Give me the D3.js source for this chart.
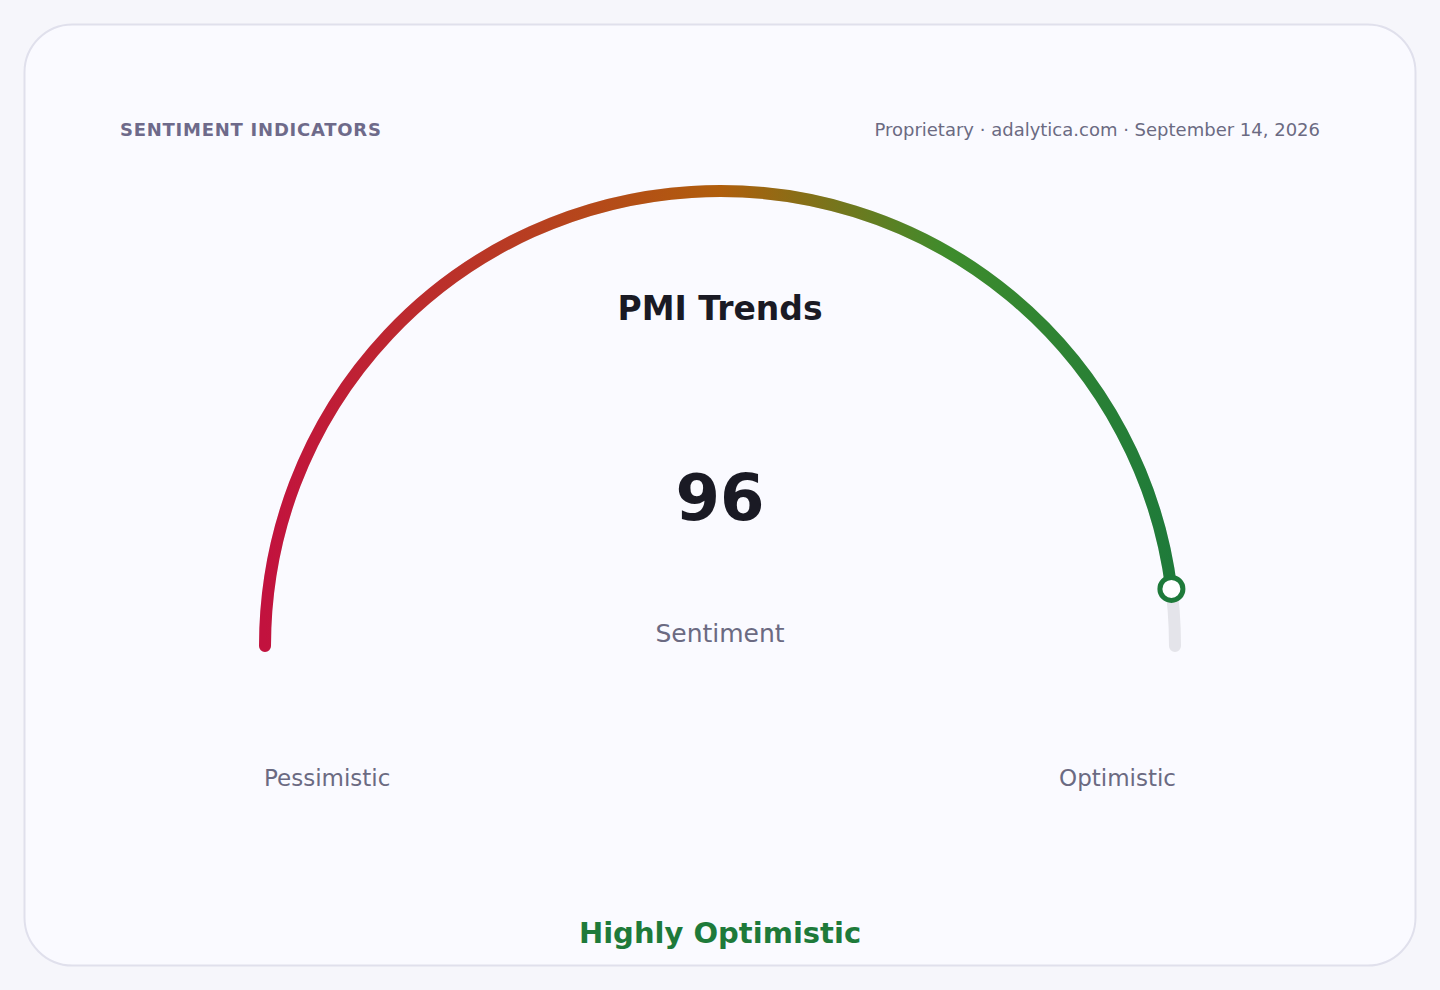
<!DOCTYPE html>
<html>
<head>
<meta charset="utf-8">
<script src="https://cdn.jsdelivr.net/npm/d3@7/dist/d3.min.js"></script>
<style>
  html, body { margin: 0; padding: 0; background: #f6f6fb; }
  svg { display: block; }
  text { font-family: "DejaVu Sans", sans-serif; }
</style>
</head>
<body>
<svg id="chart" width="1440" height="990"></svg>
<script>
// ---- data ----
const title = "PMI Trends";
const kicker = "SENTIMENT INDICATORS";
const sourceLine = "Proprietary · adalytica.com · September 14, 2026";
const gaugeDomain = [0, 100];
const gaugeValue = [96];
const valueLabel = ["Sentiment"];
const endLabels = ["Pessimistic", "Optimistic"];
const verdict = ["Highly Optimistic"];
const gradientStops = [0, 0.5, 0.75, 1];
const gradientColors = ["#c2123e", "#b05e0c", "#3e8c2c", "#1e7a3a"];

// ---- layout ----
const cx = 720, cy = 646, R = 455, SW = 12;
const svg = d3.select("#chart");

svg.append("rect").attr("x", 24.5).attr("y", 24.5).attr("width", 1391).attr("height", 941)
  .attr("rx", 48).attr("fill", "#fafaff").attr("stroke", "#e0e0ec").attr("stroke-width", 2);

svg.append("text").attr("x", 120).attr("y", 136)
  .attr("font-size", 18).attr("font-weight", "bold").attr("letter-spacing", 0.75)
  .attr("fill", "#6e6a8a").text(kicker);

svg.append("text").attr("x", 1320).attr("y", 136).attr("text-anchor", "end")
  .attr("font-size", 18).attr("fill", "#6b6a82").text(sourceLine);

// angle scale: 0 -> left (PI), 100 -> right (0), in standard math angle
const angle = d3.scaleLinear().domain(gaugeDomain).range([Math.PI, 0]);

const g = svg.append("g").attr("transform", `translate(${cx},${cy})`);

// gradient in the group's local coordinates
const defs = svg.append("defs");
const grad = defs.append("linearGradient").attr("id", "gg")
  .attr("gradientUnits", "userSpaceOnUse")
  .attr("x1", -R).attr("y1", 0).attr("x2", R).attr("y2", 0);
grad.selectAll("stop").data(gradientStops).join("stop")
  .attr("offset", d => d).attr("stop-color", (d, i) => gradientColors[i]);

function arcPath(v0, v1) {
  const p = d3.path();
  const a0 = angle(v0), a1 = angle(v1);
  p.moveTo(R * Math.cos(a0), -R * Math.sin(a0));
  // svg y is down, so math angle a maps to canvas angle -a
  p.arc(0, 0, R, -a0, -a1, false);
  return p.toString();
}

// track
g.append("path")
  .attr("d", arcPath(gaugeDomain[0], gaugeDomain[1]))
  .attr("fill", "none").attr("stroke", "#e4e4ea").attr("stroke-width", SW)
  .attr("stroke-linecap", "round");

// value arc
g.append("path")
  .attr("d", arcPath(gaugeDomain[0], gaugeValue[0]))
  .attr("fill", "none").attr("stroke", "url(#gg)").attr("stroke-width", SW)
  .attr("stroke-linecap", "round");

// knob
const a = angle(gaugeValue[0]);
g.append("circle")
  .attr("cx", R * Math.cos(a)).attr("cy", -R * Math.sin(a)).attr("r", 11.5)
  .attr("fill", "#ffffff").attr("stroke", "#1e7a3a").attr("stroke-width", 5);

// texts
svg.append("text").attr("x", cx).attr("y", 320).attr("text-anchor", "middle")
  .attr("font-size", 33).attr("font-weight", "bold").attr("fill", "#1a1a24").text(title);

svg.append("text").attr("x", cx).attr("y", 520).attr("text-anchor", "middle")
  .attr("font-size", 64).attr("font-weight", "bold").attr("fill", "#1a1a24")
  .text(d3.format("d")(gaugeValue[0]));

svg.append("text").attr("x", cx).attr("y", 642).attr("text-anchor", "middle")
  .attr("font-size", 25).attr("fill", "#6b6a82").text(valueLabel[0]);

svg.append("text").attr("x", cx - R - 1).attr("y", 786).attr("text-anchor", "start")
  .attr("font-size", 23).attr("fill", "#6b6a82").text(endLabels[0]);
svg.append("text").attr("x", cx + R + 1).attr("y", 786).attr("text-anchor", "end")
  .attr("font-size", 23).attr("fill", "#6b6a82").text(endLabels[1]);

svg.append("text").attr("x", cx).attr("y", 943).attr("text-anchor", "middle")
  .attr("font-size", 29).attr("font-weight", "bold")
  .attr("fill", "#1e7a3a").text(verdict[0]);
</script>
</body>
</html>
